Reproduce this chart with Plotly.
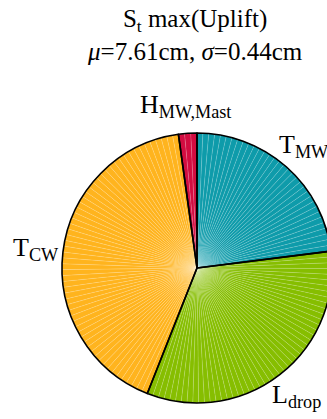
import numpy as np
import plotly.graph_objects as go

# Data (percent shares, clockwise from 12 o'clock)
labels = ["T<sub>MW</sub>", "L<sub>drop</sub>", "T<sub>CW</sub>", "H<sub>MW,Mast</sub>"]
values = [23.0, 33.0, 41.8, 2.2]
colors = ["#0E9BAA", "#86BE00", "#FFB41E", "#D20C40"]
title_line1 = "S<sub>t</sub> max(Uplift)"
title_line2 = "<i>μ</i>=7.61cm, <i>σ</i>=0.44cm"

W, H = 340, 419
cx, cy, R = 197, 268, 135  # pie centre / radius in pixels

# fine sub-slices (texture of thin white radial lines)
step = 2.5  # degrees per sub-slice
sub_vals, sub_cols = [], []
for v, c in zip(values, colors):
    n = max(1, int(round(v / (step / 3.6))))
    sub_vals += [v / n] * n
    sub_cols += [c] * n

dom_x = [(cx - R) / W, (cx + R) / W]
dom_y = [1 - (cy + R) / H, 1 - (cy - R) / H]

fig = go.Figure()
fig.add_trace(go.Pie(
    values=sub_vals, sort=False, direction="clockwise", rotation=0,
    marker=dict(colors=sub_cols, line=dict(color="rgba(255,255,255,0.25)", width=0.5)),
    textinfo="none", hoverinfo="skip", showlegend=False,
    domain=dict(x=dom_x, y=dom_y),
))
fig.add_trace(go.Pie(
    values=values, labels=labels, sort=False, direction="clockwise", rotation=0,
    marker=dict(colors=["rgba(0,0,0,0)"] * len(values), line=dict(color="black", width=1.6)),
    textinfo="none", showlegend=False,
    domain=dict(x=dom_x, y=dom_y),
))

# labels at slice mid-angles
cum = np.cumsum([0] + values)
total = cum[-1]
font = dict(family="Liberation Serif, Times New Roman, serif", size=26, color="black")
for i, lab in enumerate(labels):
    mid = (cum[i] + cum[i + 1]) / 2 / total * 2 * np.pi
    r = 1.2 * R
    px = cx + r * np.sin(mid)
    py = cy - r * np.cos(mid)
    fig.add_annotation(x=px / W, y=1 - py / H, xref="paper", yref="paper",
                       text=lab, showarrow=False, xanchor="center", yanchor="middle",
                       font=font)

fig.add_annotation(x=195 / W, y=1 - 3 / H, xref="paper", yref="paper",
                   text=title_line1 + "<br>" + title_line2, showarrow=False,
                   xanchor="center", yanchor="top",
                   font=dict(family="Liberation Serif, Times New Roman, serif", size=25, color="black"))

fig.update_layout(width=W, height=H, margin=dict(l=0, r=0, t=0, b=0),
                  paper_bgcolor="white", plot_bgcolor="white")

fig.write_html("out.html", config={"displayModeBar": False},
               post_script="document.body.style.margin='0';document.body.style.overflow='hidden';")
